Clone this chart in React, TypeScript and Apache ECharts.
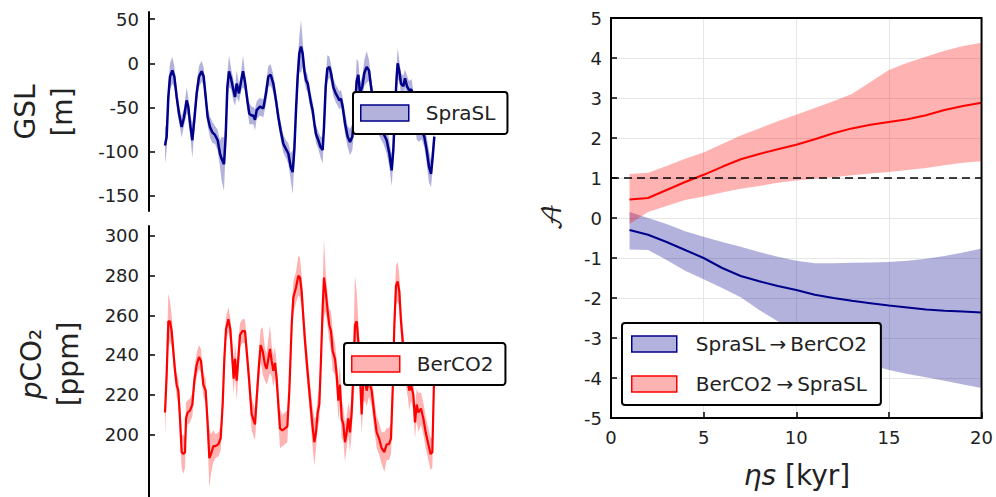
import React, { useEffect, useRef } from "react";
import * as echarts from "echarts";

const FONT = "DejaVu Sans";

// ---- Left panels: time axis (hidden), arbitrary kyr-like units ----
const gslT = [6,11,16,21,28,34,41,48,56,63,71,76,81,88,94,101,108,116,122,128,134,141,148,156,164,171,176,183,188,193,198,204,211,216,221,228,234,240,246,253,259,266,
  271,276,281,291,301,309,316,323,331,339,346,353,361,369,376,383,389,394,399,404,409,414,419,424,429,434,439,444,449,454,459,466,473,479,483,488,493,499,504,511,518,524,529,534,539,546,
  554,561,568,576,581,586,591,598,604,611,618,624,631,641,651,661,671,679,686,691,696,701,704,709,714,721,726,732,738,746,754,761,768,776,784,791,798,804,809,814];
const gslV = [-93,-83,-38,-15,-8,-15,-38,-57,-72,-61,-42,-49,-68,-87,-64,-34,-15,-9,-15,-38,-61,-72,-78,-81,-87,-102,-108,-114,-83,-27,-9,-17,-30,-38,-23,-34,-21,-9,-21,-42,-57,-59,
  -59,-64,-53,-49,-51,-34,-15,-13,-23,-42,-61,-76,-91,-97,-102,-117,-123,-98,-53,-15,11,19,11,-8,-19,-23,-34,-45,-53,-68,-80,-87,-95,-98,-72,-27,-6,-4,-11,-27,-34,-38,-42,-40,-49,-68,
  -83,-89,-83,-49,-20,-13,-34,-26,-11,-4,-8,-26,-45,-64,-72,-79,-87,-102,-121,-98,-53,-15,0,-9,-23,-26,-17,-26,-30,-30,-53,-76,-79,-76,-83,-98,-117,-125,-106,-83];
const gslErr = [20,15,15,15,15,12,10,10,12,10,15,10,10,20,12,10,12,12,10,10,10,12,12,10,12,15,25,30,15,15,18,12,12,10,15,10,10,18,10,10,12,10,
  10,12,10,10,10,12,12,12,10,10,10,10,10,10,12,15,25,15,15,20,20,30,15,12,10,10,10,10,10,10,10,10,12,15,12,12,15,12,10,10,10,10,10,10,10,12,
  12,15,15,15,25,15,12,12,15,18,12,10,12,12,12,12,15,15,18,15,15,15,18,12,12,12,10,12,10,12,12,10,10,10,12,15,18,15,15,12];

const co2T = [6,11,16,21,26,31,36,41,46,51,56,61,66,69,74,81,88,94,101,108,114,121,128,134,139,144,151,158,166,173,179,184,189,196,202,208,212,216,221,226,231,238,246,252,258,266,
  276,281,288,293,299,306,311,316,321,326,331,336,341,346,351,358,366,373,379,386,391,399,406,411,416,421,426,433,441,448,454,459,464,469,474,479,483,488,494,499,504,509,516,521,526,531,536,541,546,551,
  556,561,566,571,576,581,586,591,596,601,606,611,618,626,634,641,648,656,664,671,678,684,689,694,699,704,709,714,719,726,734,739,744,751,756,761,766,774,781,788,796,803,808,813];
const co2V = [211,230,257,257,252,242,232,225,222,208,191,190,191,208,211,212,215,227,235,239,237,225,222,205,188,190,194,194,195,198,215,238,253,258,253,238,228,238,227,238,250,252,252,240,228,210,
  205,218,235,245,242,235,233,238,243,237,232,236,228,215,203,202,203,204,222,255,269,274,280,279,272,259,247,233,218,205,196,201,211,215,238,264,279,272,262,255,252,242,238,230,217,225,208,205,196,201,
  208,201,211,230,255,257,247,230,210,228,227,222,227,222,210,201,198,193,191,195,195,198,222,255,275,277,272,257,247,235,227,222,225,220,206,215,211,213,208,201,195,190,191,227];
const co2Err = [12,10,14,10,8,6,6,6,6,8,8,10,8,8,6,6,6,6,6,6,6,6,6,8,15,10,8,6,6,6,8,8,6,6,6,8,8,8,10,8,6,6,6,6,8,8,
  8,8,8,8,12,8,8,10,12,8,8,8,8,8,10,8,8,8,8,8,8,8,10,10,8,8,8,8,8,10,12,8,8,8,8,10,20,10,8,8,10,10,8,8,10,10,10,8,10,8,
  8,10,10,15,25,15,10,10,10,12,10,8,8,8,8,8,8,8,10,8,8,8,10,10,10,10,8,8,8,8,8,10,8,8,8,8,10,8,8,8,8,8,8,10];

const gslTicks = [-150, -100, -50, 0, 50];
const co2Ticks = [200, 220, 240, 260, 280, 300];

// ---- Right panel ----
const etaS = [1,2,3,4,5,6,7,8,9,10,11,12,13,14,15,16,17,18,19,20];
const redMean = [0.46,0.5,0.7,0.9,1.08,1.28,1.47,1.6,1.72,1.83,1.97,2.12,2.24,2.33,2.4,2.47,2.57,2.7,2.8,2.88];
const redHi = [1.1,1.13,1.3,1.48,1.64,1.85,2.06,2.24,2.42,2.58,2.75,2.92,3.1,3.4,3.7,3.88,4.03,4.18,4.3,4.38];
const redLo = [-0.15,0.15,0.3,0.45,0.54,0.64,0.73,0.8,0.88,0.94,0.98,1.02,1.07,1.11,1.15,1.2,1.25,1.32,1.38,1.42];
const blueMean = [-0.3,-0.42,-0.6,-0.8,-1.0,-1.25,-1.45,-1.58,-1.7,-1.8,-1.92,-2.0,-2.07,-2.13,-2.19,-2.24,-2.29,-2.32,-2.34,-2.36];
const blueHi = [0.15,0.0,-0.15,-0.33,-0.47,-0.6,-0.72,-0.85,-0.97,-1.07,-1.13,-1.13,-1.12,-1.11,-1.1,-1.07,-1.02,-0.95,-0.86,-0.76];
const blueLo = [-0.79,-0.8,-1.05,-1.32,-1.53,-1.75,-1.98,-2.3,-2.58,-2.85,-3.08,-3.3,-3.5,-3.67,-3.8,-3.9,-3.98,-4.07,-4.16,-4.25];
const threshold = 1;

const BLUE = "#00008b";
const BLUE_FILL = "rgba(0,0,139,0.3)";
const RED = "#ff0000";
const RED_FILL = "rgba(255,0,0,0.3)";
const NAME_S2B = "SpraSL\u2009\u2192\u2009BerCO2";
const NAME_B2S = "BerCO2\u2009\u2192\u2009SpraSL";

function band(name: string, xi: number, yi: number, ts: number[], lo: number[], hi: number[], fill: string) {
  const data = ts.map((t, i) => [t, lo[i], hi[i]]);
  return {
    type: "custom",
    name,
    xAxisIndex: xi,
    yAxisIndex: yi,
    data,
    encode: { x: 0, y: [1, 2] },
    silent: true,
    z: 1,
    renderItem: (params: any, api: any) => {
      if (params.dataIndex !== 0) return null;
      const up = data.map((d) => api.coord([d[0], d[2]]));
      const dn = data.map((d) => api.coord([d[0], d[1]])).reverse();
      return { type: "polygon", shape: { points: up.concat(dn) }, style: { fill } };
    },
  };
}

function line(name: string, xi: number, yi: number, ts: number[], vs: number[], color: string, width: number) {
  return {
    type: "line",
    name,
    xAxisIndex: xi,
    yAxisIndex: yi,
    data: ts.map((t, i) => [t, vs[i]]),
    showSymbol: false,
    silent: true,
    z: 3,
    lineStyle: { color, width },
    itemStyle: { color },
  };
}

const tickLabel = { fontFamily: FONT, fontSize: 18, color: "#222" };

export default function App() {
  const ref = useRef<HTMLDivElement>(null);
  useEffect(() => {
    const chart = echarts.init(ref.current!, null, { renderer: "svg" });
    const gslLo = gslV.map((v, i) => v - gslErr[i]);
    const gslHi = gslV.map((v, i) => v + gslErr[i]);
    const co2Lo = co2V.map((v, i) => v - co2Err[i]);
    const co2Hi = co2V.map((v, i) => v + co2Err[i]);

    const leftY = (min: number, max: number, ticks: number[], gridIndex: number) => ({
      type: "value",
      gridIndex,
      min,
      max,
      axisLine: { show: true, onZero: false, lineStyle: { color: "#000", width: 2 } },
      axisTick: { show: true, inside: true, length: 6, customValues: ticks, lineStyle: { color: "#000", width: 1.5 } },
      axisLabel: { ...tickLabel, margin: 10, customValues: ticks },
      splitLine: { show: false },
    });

    const option: any = {
      animation: false,
      backgroundColor: "#fff",
      grid: [
        { left: 149, top: 12, width: 291, height: 199 },
        { left: 149, top: 226, width: 291, height: 271 },
        { left: 611, top: 18, width: 372, height: 400, show: true, borderColor: "#000", borderWidth: 2, z: 10 },
      ],
      xAxis: [
        { type: "value", gridIndex: 0, min: -42, max: 831, show: false },
        { type: "value", gridIndex: 1, min: -42, max: 831, show: false },
        {
          type: "value", gridIndex: 2, min: 0, max: 20, interval: 5,
          axisLine: { show: true, onZero: false, lineStyle: { color: "#000", width: 2 } },
          axisTick: { show: true, inside: true, length: 6, lineStyle: { color: "#000", width: 1.5 } },
          axisLabel: { ...tickLabel, margin: 10 },
          splitLine: { show: true, lineStyle: { color: "#e6e6e6", width: 1 } },
        },
      ],
      yAxis: [
        leftY(-167, 58, gslTicks, 0),
        leftY(168.4, 305, co2Ticks, 1),
        {
          type: "value", gridIndex: 2, min: -5, max: 5, interval: 1,
          axisLine: { show: true, onZero: false, lineStyle: { color: "#000", width: 2 } },
          axisTick: { show: true, inside: true, length: 6, lineStyle: { color: "#000", width: 1.5 } },
          axisLabel: { ...tickLabel, margin: 9 },
          splitLine: { show: true, lineStyle: { color: "#e6e6e6", width: 1 } },
        },
      ],
      legend: [
        {
          left: 353, top: 92, padding: [11, 12, 11, 7],
          backgroundColor: "#fff", borderColor: "#000", borderWidth: 2, borderRadius: 3,
          itemWidth: 48, itemHeight: 16,
          textStyle: { fontFamily: FONT, fontSize: 20, color: "#222", padding: [0, 0, 0, 12] },
          data: [{ name: "SpraSL", icon: "rect", itemStyle: { color: BLUE_FILL, borderColor: BLUE, borderWidth: 1.5 } }],
          selectedMode: false, z: 20,
        },
        {
          left: 344, top: 343, padding: [11, 12, 11, 7],
          backgroundColor: "#fff", borderColor: "#000", borderWidth: 2, borderRadius: 3,
          itemWidth: 48, itemHeight: 16,
          textStyle: { fontFamily: FONT, fontSize: 20, color: "#222", padding: [0, 0, 0, 12] },
          data: [{ name: "BerCO2", icon: "rect", itemStyle: { color: RED_FILL, borderColor: RED, borderWidth: 1.5 } }],
          selectedMode: false, z: 20,
        },
        {
          left: 622, top: 323, orient: "vertical", padding: [11, 14, 11, 9], itemGap: 20,
          backgroundColor: "#fff", borderColor: "#000", borderWidth: 2, borderRadius: 3,
          itemWidth: 45, itemHeight: 16,
          textStyle: { fontFamily: FONT, fontSize: 20, color: "#222", padding: [0, 0, 0, 14] },
          data: [
            { name: NAME_S2B, icon: "rect", itemStyle: { color: BLUE_FILL, borderColor: BLUE, borderWidth: 1.5 } },
            { name: NAME_B2S, icon: "rect", itemStyle: { color: RED_FILL, borderColor: RED, borderWidth: 1.5 } },
          ],
          selectedMode: false, z: 20,
        },
      ],
      series: [
        band("SpraSL", 0, 0, gslT, gslLo, gslHi, BLUE_FILL),
        line("SpraSL", 0, 0, gslT, gslV, BLUE, 2.5),
        band("BerCO2", 1, 1, co2T, co2Lo, co2Hi, RED_FILL),
        line("BerCO2", 1, 1, co2T, co2V, RED, 2.2),
        band(NAME_S2B, 2, 2, etaS, blueLo, blueHi, BLUE_FILL),
        band(NAME_B2S, 2, 2, etaS, redLo, redHi, RED_FILL),
        line(NAME_S2B, 2, 2, etaS, blueMean, BLUE, 2),
        line(NAME_B2S, 2, 2, etaS, redMean, RED, 2),
        {
          type: "line", xAxisIndex: 2, yAxisIndex: 2, silent: true, showSymbol: false, z: 4,
          data: [[0, threshold], [20, threshold]],
          lineStyle: { color: "#000", width: 1.6, type: [8, 5] },
        },
      ],
      graphic: [
        {
          type: "text", x: 44, y: 112, rotation: Math.PI / 2,
          style: { text: "GSL\n[m]", fontFamily: FONT, fontSize: 28, fill: "#222", align: "center", verticalAlign: "middle", lineHeight: 37 },
        },
        {
          type: "text", x: 50, y: 364, rotation: Math.PI / 2,
          style: {
            text: "{i|p}CO\u2082\n[ppm]", fontFamily: FONT, fontSize: 28, fill: "#222", align: "center", verticalAlign: "middle", lineHeight: 37,
            rich: { i: { fontFamily: FONT, fontSize: 28, fontStyle: "italic", fill: "#222", lineHeight: 37 } },
          },
        },
        {
          type: "text", x: 553, y: 217, rotation: Math.PI / 2,
          style: { text: "\uD835\uDC9C", fontFamily: "DejaVu Math TeX Gyre, DejaVu Sans, serif", fontSize: 26, fill: "#222", align: "center", verticalAlign: "middle" },
        },
        {
          type: "text", x: 797, y: 475,
          style: {
            text: "{i|\u03B7s} [kyr]", fontFamily: FONT, fontSize: 28, fill: "#222", align: "center", verticalAlign: "middle",
            rich: { i: { fontFamily: FONT, fontSize: 28, fontStyle: "italic", fill: "#222" } },
          },
        },
      ],
    };
    chart.setOption(option);
    return () => chart.dispose();
  }, []);
  return <div ref={ref} style={{ position: "fixed", left: 0, top: 0, width: 996, height: 497 }} />;
}
